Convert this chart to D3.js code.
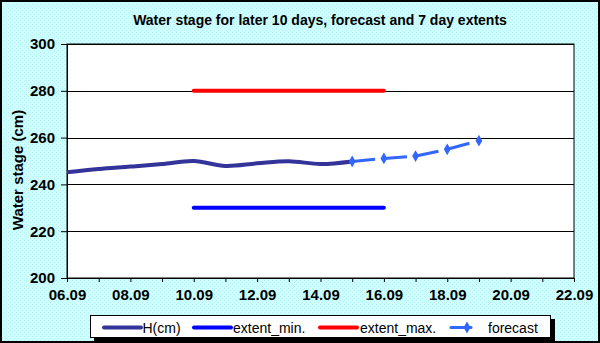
<!DOCTYPE html>
<html>
<head>
<meta charset="utf-8">
<script src="https://cdn.jsdelivr.net/npm/d3@7"></script>
<style>
  body { margin: 0; padding: 0; }
  svg { display: block; font-family: Arial, "Liberation Sans", sans-serif; }
</style>
</head>
<body>
<div class="chart-stage"></div>
<script>
// observed water stage, cm
var hDates = ["06.09", "07.09", "08.09", "09.09", "10.09", "11.09", "12.09", "13.09", "14.09", "15.09"];
var hValues = [245.2, 246.6, 247.6, 248.7, 250.0, 247.9, 249.0, 249.9, 248.7, 249.8];

// forecast
var fcDates = ["15.09", "16.09", "17.09", "18.09", "19.09"];
var fcValues = [249.8, 251.1, 252.1, 255.0, 258.7];

// 7 day extents
var extDates = ["10.09", "16.09"];
var extMin = [230, 230];
var extMax = [280, 280];

var tickLabels = ["06.09", "08.09", "10.09", "12.09", "14.09", "16.09", "18.09", "20.09", "22.09"];
var yTicks = [200, 220, 240, 260, 280, 300];

var W = 600, H = 343;
var margin = {top: 44, right: 26, bottom: 65, left: 67};
var width = W - margin.left - margin.right,
    height = H - margin.top - margin.bottom;

var parse = d3.timeParse("%d.%m");
var fmt = d3.timeFormat("%d.%m");

var x = d3.scaleTime()
    .domain([parse(tickLabels[0]), parse(tickLabels[tickLabels.length - 1])])
    .range([0, width]);
var y = d3.scaleLinear().domain([200, 300]).range([height, 0]);

var svg = d3.select(".chart-stage").append("svg")
    .attr("width", W)
    .attr("height", H);

// dotted cyan background
var defs = svg.append("defs");
var pat = defs.append("pattern")
    .attr("id", "dots")
    .attr("width", 4).attr("height", 4)
    .attr("patternUnits", "userSpaceOnUse");
pat.append("rect").attr("width", 4).attr("height", 4).attr("fill", "#ccffff");
pat.append("rect").attr("x", 0).attr("y", 0).attr("width", 1).attr("height", 1).attr("fill", "#b9eef2");
pat.append("rect").attr("x", 2).attr("y", 2).attr("width", 1).attr("height", 1).attr("fill", "#b9eef2");

svg.append("rect")
    .attr("x", 1).attr("y", 1)
    .attr("width", W - 2).attr("height", H - 2)
    .attr("fill", "url(#dots)")
    .attr("stroke", "#000")
    .attr("stroke-width", 2);

svg.append("text")
    .attr("x", 320)
    .attr("y", 25)
    .attr("text-anchor", "middle")
    .style("font-size", "14px")
    .style("font-weight", "bold")
    .text("Water stage for later 10 days, forecast and 7 day  extents");

var g = svg.append("g")
    .attr("transform", "translate(" + margin.left + "," + margin.top + ")");

g.append("rect")
    .attr("width", width).attr("height", height)
    .attr("fill", "#fff")
    .attr("stroke", "#000")
    .attr("stroke-width", 1);

// horizontal grid
g.append("g")
  .selectAll("line")
  .data(yTicks)
  .enter().append("line")
    .attr("x1", 0).attr("x2", width)
    .attr("y1", function(d) { return Math.round(y(d)) + 0.5; })
    .attr("y2", function(d) { return Math.round(y(d)) + 0.5; })
    .attr("stroke", "#000");

// y axis
var yAxis = g.append("g")
    .call(d3.axisLeft(y).tickValues(yTicks).tickSize(6).tickPadding(6));
yAxis.select(".domain").attr("stroke", "#000");
yAxis.selectAll("text")
    .style("font-size", "15px")
    .style("font-weight", "bold")
    .attr("fill", "#000");

// x axis, a tick every day, labels every other day
var dayTicks = d3.timeDay.range(x.domain()[0], d3.timeDay.offset(x.domain()[1], 1));
var labelSet = new Set(tickLabels);
var xAxis = g.append("g")
    .attr("transform", "translate(0," + height + ")")
    .call(d3.axisBottom(x)
      .tickValues(dayTicks)
      .tickSize(4)
      .tickPadding(7)
      .tickFormat(function(d) { return labelSet.has(fmt(d)) ? fmt(d) : ""; }));
xAxis.select(".domain").attr("stroke", "#000");
xAxis.selectAll("text")
    .style("font-size", "15px")
    .style("font-weight", "bold")
    .attr("fill", "#000");

svg.append("text")
    .attr("transform", "translate(23,170) rotate(-90)")
    .attr("text-anchor", "middle")
    .style("font-size", "15px")
    .style("font-weight", "bold")
    .text("Water stage (cm)");

function pts(dates, vals) {
  return dates.map(function(d, i) { return {date: parse(d), v: vals[i]}; });
}

var line = d3.line()
    .x(function(d) { return x(d.date); })
    .y(function(d) { return y(d.v); });

// extents
g.append("path")
    .datum(pts(extDates, extMin))
    .attr("d", line)
    .attr("fill", "none")
    .attr("stroke", "#0000ff")
    .attr("stroke-width", 4)
    .attr("stroke-linecap", "round");

g.append("path")
    .datum(pts(extDates, extMax))
    .attr("d", line)
    .attr("fill", "none")
    .attr("stroke", "#ff0000")
    .attr("stroke-width", 4)
    .attr("stroke-linecap", "round");

// observed
g.append("path")
    .datum(pts(hDates, hValues))
    .attr("d", line.curve(d3.curveCardinal.tension(0)))
    .attr("fill", "none")
    .attr("stroke", "#333399")
    .attr("stroke-width", 4);
line.curve(d3.curveLinear);

// forecast
var fc = pts(fcDates, fcValues);
g.append("path")
    .datum(fc)
    .attr("d", line)
    .attr("fill", "none")
    .attr("stroke", "#3366ff")
    .attr("stroke-width", 3)
    .attr("stroke-dasharray", "23,9");

var diamond = d3.symbol().type(d3.symbolDiamond).size(40);
g.selectAll(".fc-mark")
    .data(fc)
    .enter().append("path")
    .attr("class", "fc-mark")
    .attr("transform", function(d) { return "translate(" + x(d.date) + "," + y(d.v) + ")"; })
    .attr("d", diamond)
    .attr("fill", "#3366ff");

// legend
var leg = svg.append("g");
leg.append("rect")
    .attr("x", 94).attr("y", 319)
    .attr("width", 461).attr("height", 22)
    .attr("fill", "#000");
leg.append("rect")
    .attr("x", 90.5).attr("y", 315.5)
    .attr("width", 460).attr("height", 22)
    .attr("fill", "#fff")
    .attr("stroke", "#000");

var legItems = [
  {name: "H(cm)", color: "#333399", x1: 104, x2: 141, tx: 142.5, w: 4},
  {name: "extent_min.", color: "#0000ff", x1: 194, x2: 231, tx: 233, w: 4},
  {name: "extent_max.", color: "#ff0000", x1: 320, x2: 357, tx: 360, w: 4},
  {name: "forecast", color: "#3366ff", x1: 451, x2: 471, tx: 488, w: 3, mark: true}
];

legItems.forEach(function(it) {
  leg.append("line")
    .attr("x1", it.x1).attr("x2", it.x2)
    .attr("y1", 327.5).attr("y2", 327.5)
    .attr("stroke", it.color)
    .attr("stroke-width", it.w)
    .attr("stroke-linecap", "round");
  if (it.mark) {
    leg.append("path")
      .attr("transform", "translate(467,327.5)")
      .attr("d", diamond)
      .attr("fill", it.color);
  }
  leg.append("text")
    .attr("x", it.tx).attr("y", 332.5)
    .style("font-size", "14px")
    .text(it.name);
});
</script>
</body>
</html>
